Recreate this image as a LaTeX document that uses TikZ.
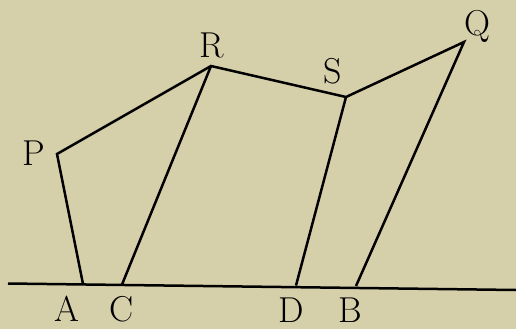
\documentclass[tikz,border=0pt]{standalone}
\usepackage{fontspec}
\usepackage{tikz}
\usetikzlibrary{positioning, calc}
\definecolor{paper}{RGB}{214,208,170}

\begin{document}
\begin{tikzpicture}[x=1pt, y=-1pt, line width=2.5pt,
    lbl/.style={font=\fontsize{36}{38}\selectfont, inner sep=0pt}]
            \fill[paper] (0,0) rectangle (516,329);
            \useasboundingbox (0,0) rectangle (516,329);
            % vertices of the polygon
            \coordinate (p) at (57,154);
            \coordinate (r) at (211,66);
            \coordinate (s) at (346,97);
            \coordinate (q) at (464,42);
            % feet on the line
            \coordinate (a) at (83,284);
            \coordinate (c) at (122,284.5);
            \coordinate (d) at (296,285.5);
            \coordinate (b) at (356,286);
            \coordinate (l) at (8,283.5);
            \coordinate (m) at (516,290);
            
            \node[lbl] (lp) at (34,153) {P};
            \node[lbl] (lr) at (212,45) {R};
            \node[lbl] (ls) at (333,71) {S};
            \node[lbl] (lq) at (477,26) {Q};
            \node[lbl] (la) at (67,309) {A};
            \node[lbl] (lc) at (122,309) {C};
            \node[lbl] (ld) at (291,310) {D};
            \node[lbl] (lb) at (350,310) {B};
            
            \draw (l) -- (m);
            \draw[line join=miter] (a) -- (p) -- (r) -- (s) -- (q) -- (b);
            \draw (r) -- (c);
            \draw (s) -- (d);
        \end{tikzpicture}
\end{document}
